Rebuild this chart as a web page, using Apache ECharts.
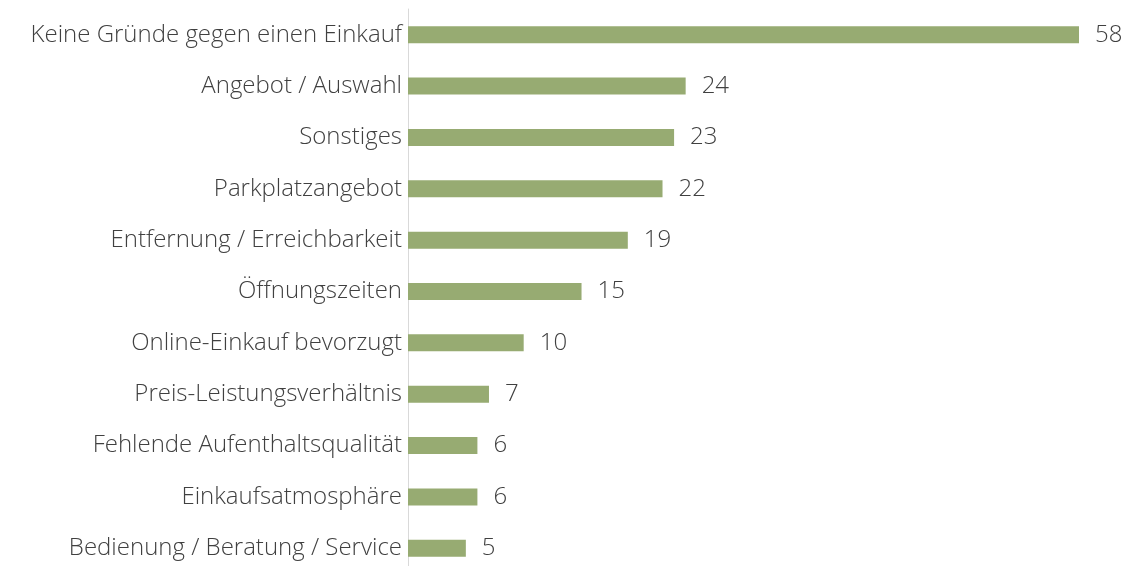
<!DOCTYPE html>
<html>
<head>
<meta charset="utf-8">
<script src="https://cdn.jsdelivr.net/npm/echarts@6/dist/echarts.min.js"></script>
<style>
  html, body { margin: 0; padding: 0; background: #fff; overflow: hidden; }
  #chart { width: 1130px; height: 580px; }
</style>
</head>
<body>
<div id="chart"></div>
<script>
// categories listed top to bottom
const categories = [
  'Keine Gründe gegen einen Einkauf',
  'Angebot / Auswahl',
  'Sonstiges',
  'Parkplatzangebot',
  'Entfernung / Erreichbarkeit',
  'Öffnungszeiten',
  'Online-Einkauf bevorzugt',
  'Preis-Leistungsverhältnis',
  'Fehlende Aufenthaltsqualität',
  'Einkaufsatmosphäre',
  'Bedienung / Beratung / Service'
]
const values = [58, 24, 23, 22, 19, 15, 10, 7, 6, 6, 5]

const chart = echarts.init(document.getElementById('chart'))

const option = {
  animation: false,
  grid: {
    left: 408,
    right: 51,
    top: 9,
    bottom: 6,
    containLabel: false
  },
  xAxis: {
    type: 'value',
    min: 0,
    max: 58,
    show: false
  },
  yAxis: {
    type: 'category',
    inverse: true,
    data: categories,
    axisLine: { show: true, lineStyle: { color: '#d9d9d9', width: 1 } },
    axisTick: { show: false },
    axisLabel: {
      fontFamily: 'Open Sans',
      fontWeight: 300,
      fontSize: 24,
      color: '#404040',
      margin: 6
    }
  },
  series: [
    {
      type: 'bar',
      data: values,
      barWidth: 17,
      itemStyle: { color: '#97ab72' },
      label: {
        show: true,
        position: 'right',
        distance: 16,
        fontFamily: 'Open Sans',
        fontWeight: 300,
        fontSize: 24,
        color: '#404040'
      }
    }
  ]
}

chart.setOption(option)
</script>
</body>
</html>
